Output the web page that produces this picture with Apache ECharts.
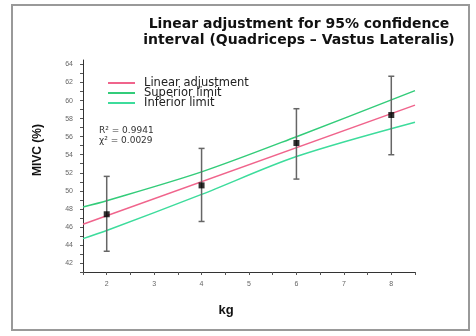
<!DOCTYPE html>
<html>
<head>
<meta charset="utf-8">
<script src="https://cdn.jsdelivr.net/npm/echarts@6/dist/echarts.min.js"></script>
<style>
  html, body { margin: 0; padding: 0; background: #fff; }
  #chart { width: 476px; height: 336px; }
</style>
</head>
<body>
<div id="chart"></div>
<script>
// values
const kg = [2, 4, 6, 8]
const mivcMean = [47.4, 50.6, 55.3, 58.4]
const mivcLow = [43.3, 46.6, 51.3, 54.0]
const mivcHigh = [51.6, 54.7, 59.1, 62.7]

const fitX = [1.5, 8.5]
const fitY = [46.3, 59.5]
const bandX = [1.5, 2, 4, 6, 8.5]
const superiorY = [48.2, 48.9, 52.1, 56.0, 61.1]
const inferiorY = [44.7, 45.6, 49.6, 53.8, 57.6]

const xTicks = [2, 3, 4, 5, 6, 7, 8]
const xTickMarks = [1.5, 2, 2.5, 3, 3.5, 4, 4.5, 5, 5.5, 6, 6.5, 7, 7.5, 8, 8.5]
const yTicks = [42, 44, 46, 48, 50, 52, 54, 56, 58, 60, 62, 64]
const yTickMarks = [41, 42, 43, 44, 45, 46, 47, 48, 49, 50, 51, 52, 53, 54, 55, 56, 57, 58, 59, 60, 61, 62, 63, 64]

const pairs = (xs, ys) => xs.map((x, i) => [x, ys[i]])

const chart = echarts.init(document.getElementById('chart'))

chart.setOption({
  animation: false,
  title: {
    text: 'Linear adjustment for 95% confidence\ninterval (Quadriceps \u2013 Vastus Lateralis)',
    left: 294,
    top: 11,
    textAlign: 'center',
    textStyle: {
      fontFamily: 'DejaVu Sans',
      fontSize: 14,
      fontWeight: 'bold',
      lineHeight: 16,
      color: '#111'
    }
  },
  legend: {
    orient: 'vertical',
    left: 103,
    top: 72,
    itemWidth: 27,
    itemHeight: 2,
    itemGap: -2,
    icon: 'rect',
    data: ['Linear adjustment', 'Superior limit', 'Inferior limit'],
    textStyle: {
      fontFamily: 'DejaVu Sans',
      fontSize: 11.5,
      lineHeight: 10,
      color: '#222',
      padding: [0, 0, 0, 4]
    }
  },
  graphic: [
    {
      type: 'rect',
      shape: { x: 12, y: 5, width: 457, height: 325 },
      style: { fill: 'none', stroke: '#999', lineWidth: 2 }
    },
    {
      type: 'text',
      left: 99,
      top: 126,
      style: {
        text: 'R\u00b2 = 0.9941\n\u03c7\u00b2 = 0.0029',
        font: '9px "DejaVu Sans"',
        lineHeight: 10,
        fill: '#333'
      }
    },
    {
      type: 'text',
      x: 38,
      y: 150,
      rotation: Math.PI / 2,
      style: {
        text: 'MIVC (%)',
        font: 'bold 12px "Liberation Sans"',
        fill: '#111',
        align: 'center',
        verticalAlign: 'middle'
      }
    },
    {
      type: 'text',
      x: 226,
      y: 310,
      style: {
        text: 'kg',
        font: 'bold 13px "Liberation Sans"',
        fill: '#111',
        align: 'center',
        verticalAlign: 'middle'
      }
    }
  ],
  grid: {
    left: 83,
    right: 61,
    top: 60,
    bottom: 64
  },
  xAxis: {
    type: 'value',
    min: 1.5,
    max: 8.5,
    axisLine: { lineStyle: { color: '#333', width: 1 } },
    axisTick: { show: true, customValues: xTickMarks, length: 3, lineStyle: { color: '#555' } },
    axisLabel: { customValues: xTicks, fontSize: 7, color: '#666', margin: 9, fontFamily: 'Liberation Sans' },
    splitLine: { show: false }
  },
  yAxis: {
    type: 'value',
    min: 41,
    max: 64.5,
    axisLine: { show: true, lineStyle: { color: '#333', width: 1 } },
    axisTick: { show: true, customValues: yTickMarks, length: 3, lineStyle: { color: '#555' } },
    axisLabel: { customValues: yTicks, fontSize: 7, color: '#666', margin: 10, fontFamily: 'Liberation Sans' },
    splitLine: { show: false }
  },
  series: [
    {
      name: 'Linear adjustment',
      type: 'line',
      data: pairs(fitX, fitY),
      symbol: 'none',
      lineStyle: { color: '#f0648c', width: 1.5 },
      itemStyle: { color: '#f0648c' },
      z: 3
    },
    {
      name: 'Superior limit',
      type: 'line',
      data: pairs(bandX, superiorY),
      symbol: 'none',
      smooth: 0.3,
      lineStyle: { color: '#33cc7a', width: 1.5 },
      itemStyle: { color: '#33cc7a' },
      z: 3
    },
    {
      name: 'Inferior limit',
      type: 'line',
      data: pairs(bandX, inferiorY),
      symbol: 'none',
      smooth: 0.3,
      lineStyle: { color: '#3ddc9c', width: 1.5 },
      itemStyle: { color: '#3ddc9c' },
      z: 3
    },
    {
      name: 'error',
      type: 'custom',
      data: kg.map((x, i) => [x, mivcLow[i], mivcHigh[i]]),
      renderItem: function(params, api) {
        const lo = api.coord([api.value(0), api.value(1)])
        const hi = api.coord([api.value(0), api.value(2)])
        const w = 3
        const style = { stroke: '#666', lineWidth: 1.5 }
        return {
          type: 'group',
          children: [
            { type: 'line', shape: { x1: lo[0], y1: lo[1], x2: hi[0], y2: hi[1] }, style },
            { type: 'line', shape: { x1: lo[0] - w, y1: lo[1], x2: lo[0] + w, y2: lo[1] }, style },
            { type: 'line', shape: { x1: hi[0] - w, y1: hi[1], x2: hi[0] + w, y2: hi[1] }, style }
          ]
        }
      },
      z: 4
    },
    {
      name: 'MIVC',
      type: 'scatter',
      data: pairs(kg, mivcMean),
      symbol: 'rect',
      symbolSize: 6,
      itemStyle: { color: '#000' },
      z: 5
    }
  ]
})
</script>
</body>
</html>
